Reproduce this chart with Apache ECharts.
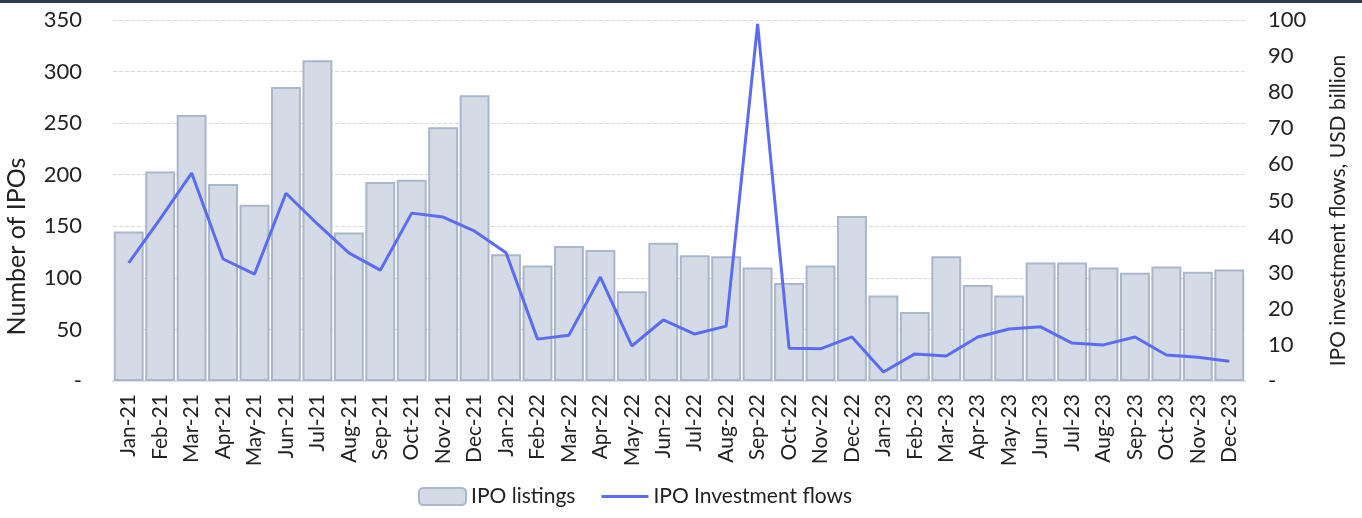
<!DOCTYPE html>
<html>
<head>
<meta charset="utf-8">
<script src="https://cdn.jsdelivr.net/npm/echarts@6/dist/echarts.min.js"></script>
<style>
  html, body { margin: 0; padding: 0; background: #fff; }
  #topline { position: absolute; left: 0; top: 0; width: 1362px; height: 3px; background: #2f3b52; }
  #main { width: 1362px; height: 518px; }
</style>
</head>
<body>
<div id="topline"></div>
<div id="main"></div>
<script>
  // months
  var months = ['Jan-21','Feb-21','Mar-21','Apr-21','May-21','Jun-21','Jul-21','Aug-21','Sep-21','Oct-21','Nov-21','Dec-21',
    'Jan-22','Feb-22','Mar-22','Apr-22','May-22','Jun-22','Jul-22','Aug-22','Sep-22','Oct-22','Nov-22','Dec-22',
    'Jan-23','Feb-23','Mar-23','Apr-23','May-23','Jun-23','Jul-23','Aug-23','Sep-23','Oct-23','Nov-23','Dec-23']
  // number of IPOs (left axis)
  var listings = [145, 203, 258, 191, 171, 285, 311, 144, 193, 195, 246, 277,
    123, 112, 131, 127, 87, 134, 122, 121, 110, 95, 112, 160,
    83, 67, 121, 93, 83, 115, 115, 110, 105, 111, 106, 108]
  // IPO investment flows, USD billion (right axis)
  var flows = [32.7, 44.9, 57.6, 33.8, 29.6, 52, 43.5, 35.5, 30.7, 46.5, 45.4, 41.5,
    35.5, 11.6, 12.7, 28.8, 9.7, 16.9, 13, 15.2, 98.9, 9.1, 8.9, 12.2,
    2.5, 7.5, 6.9, 12.2, 14.4, 15, 10.5, 10, 12.2, 7.2, 6.6, 5.5]

  var font = 'Lato, sans-serif'
  var txt = '#222'
  var chart = echarts.init(document.getElementById('main'))
  chart.setOption({
    animation: false,
    textStyle: { fontFamily: font },
    grid: { left: 113, right: 117, top: 20, bottom: 137, containLabel: false, outerBoundsMode: 'none' },
    legend: {
      bottom: 6,
      left: 413,
      itemWidth: 47,
      itemHeight: 17,
      itemGap: 26,
      textStyle: { fontSize: 21, color: txt, fontFamily: font },
      data: [
        { name: 'IPO listings' },
        { name: 'IPO Investment flows', icon: 'path://M0,0 L47,0 L47,3 L0,3 Z' }
      ]
    },
    xAxis: {
      type: 'category',
      data: months,
      axisTick: { show: false },
      axisLine: { lineStyle: { color: '#dedede', width: 2 } },
      axisLabel: { rotate: 90, fontSize: 21, color: txt, margin: 13, interval: 0, fontFamily: font }
    },
    yAxis: [
      {
        type: 'value',
        min: 0, max: 350, interval: 50,
        name: 'Number of IPOs',
        nameLocation: 'middle',
        nameGap: 84,
        // title sits a bit below the plot middle in the original
        nameTextStyle: { fontSize: 25, color: txt, fontFamily: font, padding: [0, 92, 0, 0] },
        axisLabel: {
          fontSize: 22, color: txt, margin: 31, fontFamily: font,
          formatter: function (v) { return v === 0 ? '-' : v }
        },
        splitLine: { lineStyle: { color: '#d9d9d9', type: 'dashed' } }
      },
      {
        type: 'value',
        min: 0, max: 100, interval: 10,
        name: 'IPO investment flows, USD billion',
        nameLocation: 'middle',
        nameGap: 83,
        nameRotate: 90,
        nameTextStyle: { fontSize: 21, color: txt, fontFamily: font, padding: [0, 20, 0, 0] },
        axisLabel: {
          fontSize: 22, color: txt, margin: 23, fontFamily: font,
          formatter: function (v) { return v === 0 ? '-' : v }
        },
        splitLine: { show: false }
      }
    ],
    series: [
      {
        name: 'IPO listings',
        type: 'bar',
        yAxisIndex: 0,
        barCategoryGap: '5%',
        itemStyle: { color: '#d5dbe6', borderColor: '#aab6c9', borderWidth: 2 },
        data: listings
      },
      {
        name: 'IPO Investment flows',
        type: 'line',
        yAxisIndex: 1,
        symbol: 'none',
        lineStyle: { color: '#5b6cf3', width: 3 },
        itemStyle: { color: '#5b6cf3' },
        data: flows
      }
    ]
  })
</script>
</body>
</html>
